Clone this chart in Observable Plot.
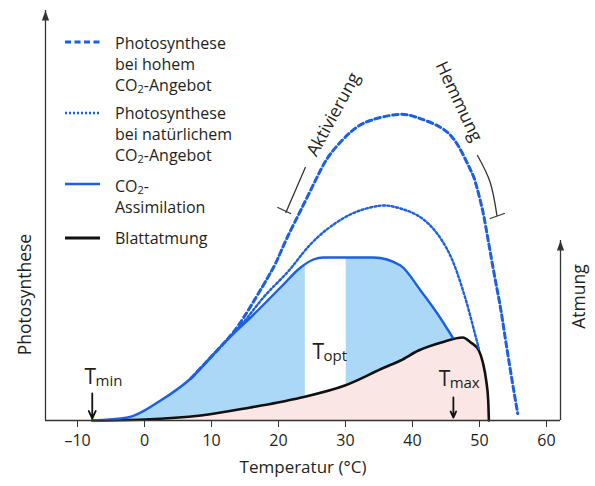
<!DOCTYPE html>
<html><head><meta charset="utf-8">
<script src="https://cdn.jsdelivr.net/npm/d3@7"></script>
<script src="https://cdn.jsdelivr.net/npm/@observablehq/plot@0.6"></script>
<style>
body{margin:0;background:#fff;font-family:"Open Sans",sans-serif;color:#231f20}
#wrap{position:relative;width:595px;height:486px;overflow:hidden}
.lg{position:absolute;left:115px;font-size:16px;line-height:21px;white-space:nowrap}
.lg sub{font-size:11px;vertical-align:-2px;line-height:0}
#sw{position:absolute;left:0;top:0}
</style></head><body>
<div id="wrap"></div>
<script>
// ---- data (temperature in °C, rate in relative units) ----
const xTicks = [-10, 0, 10, 20, 30, 40, 50, 60];
const xDomain = [-14.78, 62.09];
const yDomain = [0, 410];

// CO2-Assimilation (solid blue)
const assimT = [-7.8, -2.5, 2.4, 6.9, 11.8, 16.9, 20.3, 23.3, 25.2, 26.7, 34.2, 38.2, 41.2, 43.7, 46];
const assimV = [0, 3, 20, 42, 77, 110, 133, 153, 161, 163, 163, 155, 130, 107, 83];

// Blattatmung (black)
const respT = [-7.8, 0, 8.4, 15.8, 19.9, 23.4, 29.9, 35.8, 38.2, 40.9, 44.3, 47.5, 48.7, 49.9, 50.5, 51, 51.3, 51.4];
const respV = [0, 1, 5, 13, 18, 23, 35, 53, 60, 70, 78, 83, 78, 70, 58, 40, 20, 0];

// Photosynthese bei hohem CO2-Angebot (dashed)
const highT = [6.9, 11.8, 14.8, 18.4, 19.9, 21.3, 23.3, 25.8, 27.8, 30.7, 33.7, 37.8, 40.7, 44.2, 46.7, 48.7, 49.4, 50.4, 51.3, 52.4, 53.2, 54.3, 55.7];
const highV = [42, 77, 103, 143, 162, 183, 210, 244, 267, 288, 300, 306, 303, 293, 276, 250, 238, 212, 180, 139, 110, 63, 7];

// Photosynthese bei natürlichem CO2-Angebot (dotted)
const natT = [6.9, 11.8, 15, 18, 21.3, 23.7, 25.8, 27.8, 30.7, 33.7, 36, 38.2, 40.5, 42.5, 44.3, 45.9, 47.2, 48.2, 49, 49.7, 49.9];
const natV = [42, 77, 100, 125, 148, 168, 183, 194, 206, 213, 215, 212, 206, 196, 181, 161, 137, 115, 95, 77, 72];

// Optimum band and cardinal temperatures
const optBand = [{T1: 24, T2: 30.1, lo: 0, hi: 170}];
const tArrows = [{T: -7.8, from: 27, to: 2}, {T: 46.1, from: 23, to: 3}];
const tLabels = [
  {T: -8.96, v: 37, sub: "min"},
  {T: 25.07, v: 62, sub: "opt"},
  {T: 43.9, v: 35, sub: "max"}
];

// Annotations
const notes = [
  {T: 28.2, v: 306, label: "Aktivierung", rot: -61.5},
  {T: 46.9, v: 319, label: "Hemmung", rot: 64.7}
];
const brackets = [
  {id: "a", T: 24.0, v: 253}, {id: "a", T: 21.1, v: 208},
  {id: "at", T: 19.9, v: 213}, {id: "at", T: 21.8, v: 207},
  {id: "h", T: 49.7, v: 265}, {id: "h", T: 51.6, v: 238}, {id: "h", T: 52.6, v: 205},
  {id: "ht", T: 51.6, v: 202}, {id: "ht", T: 53.7, v: 207}
];

// Axes (left: Photosynthese, right: Atmung)
const vAxes = [{T: xDomain[0], lo: 0, tip: 410}, {T: xDomain[1], lo: 0, tip: 180}];

// ---- build ----
const zip = (t, v) => t.map((d, i) => ({T: d, v: v[i]}));
const assim = zip(assimT, assimV);
const resp = zip(respT, respV);
const high = zip(highT, highV);
const nat = zip(natT, natV);

const blue = "#1b5fe3";
const ink = "#231f20";
const head = {draw(ctx) { ctx.moveTo(0, 0); ctx.lineTo(3.6, 10); ctx.lineTo(-3.6, 10); ctx.closePath(); }};

const chart = Plot.plot({
  width: 595, height: 486,
  marginLeft: 45, marginRight: 35, marginTop: 10, marginBottom: 66,
  style: {fontFamily: "'Open Sans', sans-serif", fontSize: "16px", color: ink, background: "white", overflow: "visible"},
  x: {domain: xDomain},
  y: {domain: yDomain, axis: null},
  marks: [
    Plot.areaY(assim, {x: "T", y: "v", fill: "#aad8f6", curve: "monotone-x"}),
    Plot.rect(optBand, {x1: "T1", x2: "T2", y1: "lo", y2: "hi", fill: "white"}),
    Plot.areaY(resp, {x: "T", y: "v", fill: "#fbe6e6", curve: "monotone-x"}),
    Plot.line(resp, {x: "T", y: "v", stroke: "#111", strokeWidth: 2.6, curve: "monotone-x"}),
    Plot.line(assim, {x: "T", y: "v", stroke: blue, strokeWidth: 2.4, curve: "monotone-x"}),
    Plot.line(nat, {x: "T", y: "v", stroke: blue, strokeWidth: 2.4, strokeDasharray: "2,2.4", curve: "natural"}),
    Plot.line(high, {x: "T", y: "v", stroke: blue, strokeWidth: 3, strokeDasharray: "5.5,3.5", curve: "natural"}),
    Plot.ruleY([0], {stroke: "#333", strokeWidth: 1.4}),
    Plot.axisX({ticks: xTicks, tickSize: 7, tickPadding: 7, fontSize: 16, label: null, stroke: "#333",
      tickFormat: d => d < 0 ? "–" + (-d) : String(d)}),
    Plot.ruleX(vAxes, {x: "T", y1: "lo", y2: "tip", stroke: "#333", strokeWidth: 1.3}),
    Plot.dot(vAxes, {x: "T", y: "tip", symbol: head, r: 5, fill: "#333", stroke: null}),
    Plot.arrow(tArrows, {x1: "T", x2: "T", y1: "from", y2: "to", stroke: "#111", strokeWidth: 1.8, headLength: 8, headAngle: 50}),
    Plot.text(tLabels, {x: "T", y: "v", text: () => "T", textAnchor: "start", lineAnchor: "bottom", fontSize: 21}),
    Plot.text(tLabels, {x: "T", y: "v", text: "sub", textAnchor: "start", lineAnchor: "bottom", fontSize: 15, dx: 11, dy: 2.5}),
    Plot.line(brackets, {x: "T", y: "v", z: "id", stroke: "#333", strokeWidth: 1.3, curve: "natural"}),
    Plot.text(notes, {x: "T", y: "v", text: "label", rotate: "rot", fontSize: 17.5, lineAnchor: "middle"}),
    Plot.text(["Temperatur (°C)"], {frameAnchor: "bottom", dy: 47, lineAnchor: "middle", fontSize: 17}),
    Plot.text(["Photosynthese"], {frameAnchor: "left", dx: -20, dy: 79, rotate: -90, textAnchor: "middle", lineAnchor: "middle", fontSize: 17.5}),
    Plot.text(["Atmung"], {frameAnchor: "right", dx: 19, dy: 81, rotate: -90, textAnchor: "middle", lineAnchor: "middle", fontSize: 17.5})
  ]
});

const wrap = document.getElementById("wrap");
wrap.appendChild(chart);

// ---- legend ----
const legendItems = [
  {top: 33, line: 42, html: "Photosynthese<br>bei hohem<br>CO<sub>2</sub>-Angebot", dash: "6,3.5", w: 3, color: blue},
  {top: 103, line: 113, html: "Photosynthese<br>bei natürlichem<br>CO<sub>2</sub>-Angebot", dash: "2,2", w: 2.5, color: blue},
  {top: 176, line: 184, html: "CO<sub>2</sub>-<br>Assimilation", dash: null, w: 2.5, color: blue, lh: 20.5},
  {top: 228, line: 238, html: "Blattatmung", dash: null, w: 3, color: "#111"}
];
const ns = "http://www.w3.org/2000/svg";
const sw = document.createElementNS(ns, "svg");
sw.setAttribute("id", "sw"); sw.setAttribute("width", 110); sw.setAttribute("height", 260);
for (const it of legendItems) {
  const l = document.createElementNS(ns, "line");
  l.setAttribute("x1", 65); l.setAttribute("x2", 100);
  l.setAttribute("y1", it.line); l.setAttribute("y2", it.line);
  l.setAttribute("stroke", it.color); l.setAttribute("stroke-width", it.w);
  if (it.dash) l.setAttribute("stroke-dasharray", it.dash);
  sw.appendChild(l);
  const d = document.createElement("div");
  d.className = "lg"; d.style.top = it.top + "px";
  if (it.lh) d.style.lineHeight = it.lh + "px";
  d.innerHTML = it.html;
  wrap.appendChild(d);
}
wrap.appendChild(sw);
</script>
</body></html>
